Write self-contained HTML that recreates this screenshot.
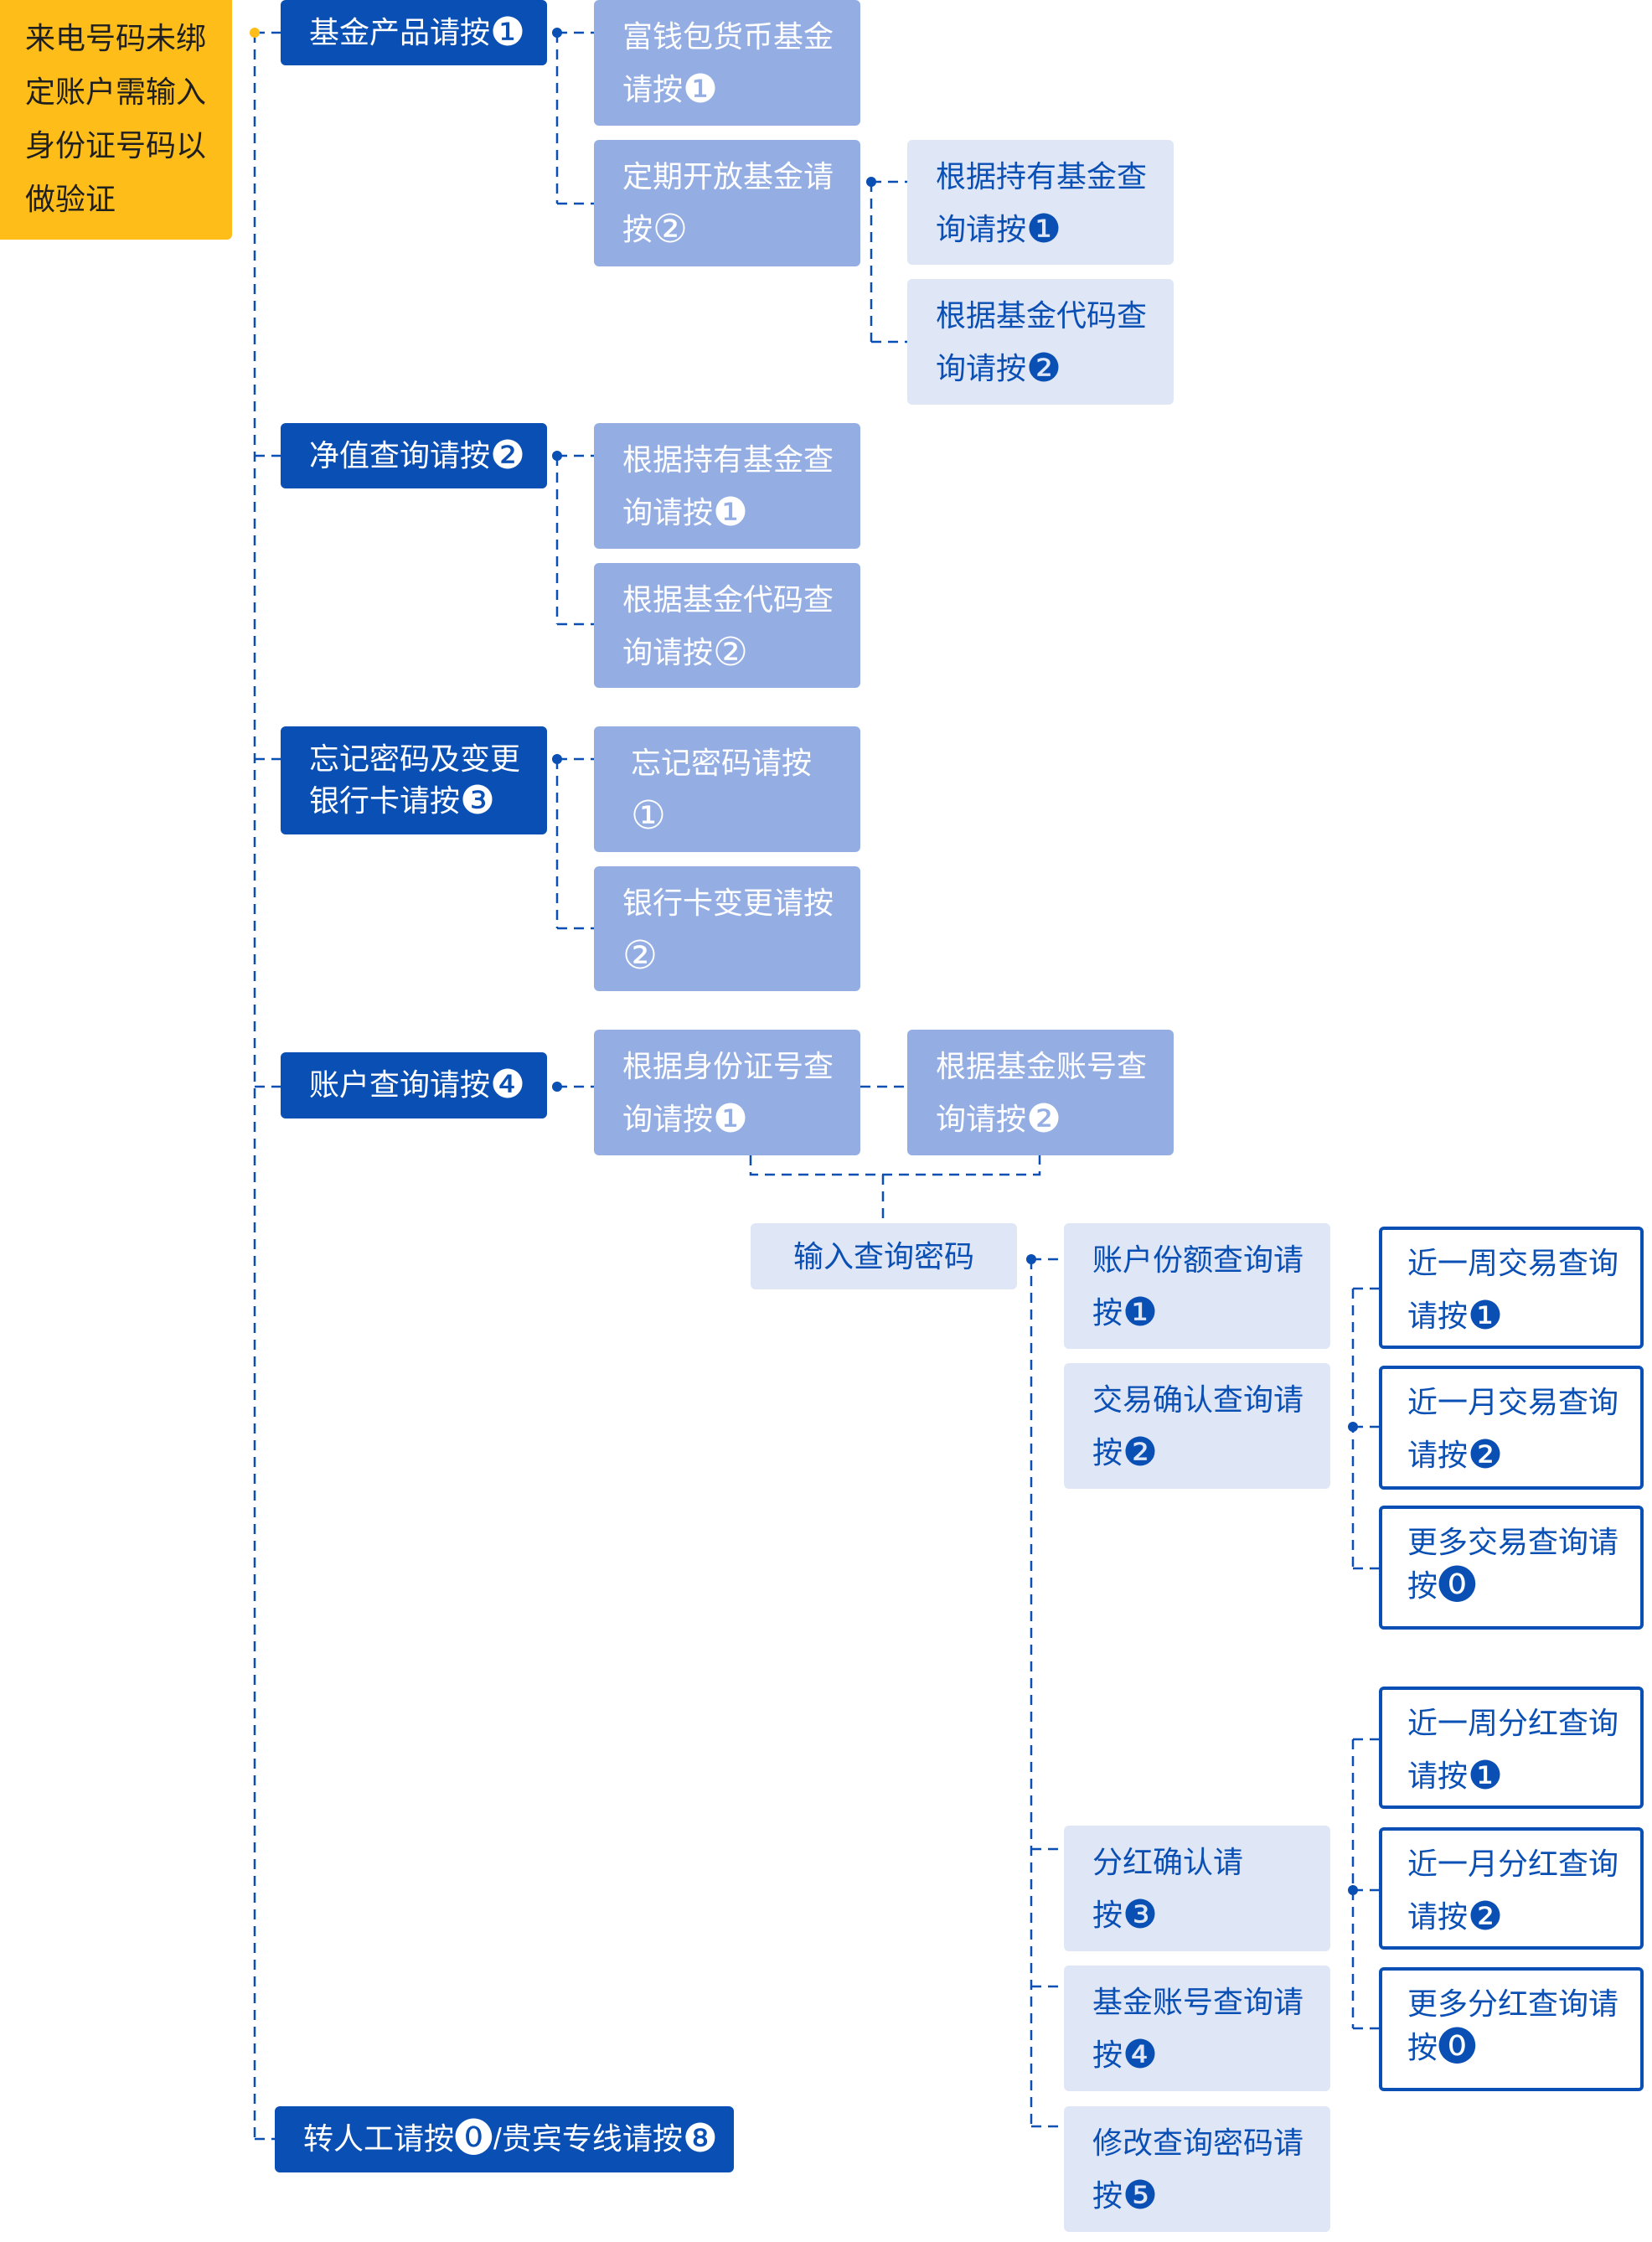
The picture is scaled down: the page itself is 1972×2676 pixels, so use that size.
<!DOCTYPE html>
<html><head><meta charset="utf-8"><style>
html,body{margin:0;padding:0;background:#fff}
body{width:1972px;height:2676px;position:relative;overflow:hidden;font-family:"Liberation Sans","Noto Sans CJK SC",sans-serif}
.b{position:absolute;box-sizing:border-box;font-size:36px;line-height:63px;padding:12px 0 0 34px;border-radius:6px;white-space:nowrap}
.d{background:#0a4fb4;color:#fff;line-height:78px;padding:0 0 0 34px}
.m{background:#94aee4;color:#fff}
.l{background:#dfe6f6;color:#0a4fb4}
.o{background:#fff;color:#0a4fb4;border:4px solid #0a4fb4;padding:8px 0 0 30px}
.c{font-family:"DejaVu Sans",sans-serif;font-size:1.3em;line-height:0;vertical-align:-0.06em}
svg{position:absolute;left:0;top:0}
</style></head><body>
<svg width="1972" height="2676">
<g stroke="#0a4fb4" stroke-width="2.5" stroke-dasharray="12 8" fill="none">
<path d="M304 39V2553"/>
<path d="M304 39H335M304 544H335M304 906H335M304 1297H335M304 2553H328"/>
<path d="M665 39V243M665 39H709M665 243H709"/>
<path d="M1040 217V408M1040 217H1083M1040 408H1083"/>
<path d="M665 544V745M665 544H709M665 745H709"/>
<path d="M665 906V1108M665 906H709M665 1108H709"/>
<path d="M665 1297H709M1027 1297H1083"/>
<path d="M896 1379V1402H1241V1379M1054 1402V1460"/>
<path d="M1231 1503V2538M1231 1503H1270M1231 2207H1270M1231 2371H1270M1231 2538H1270"/>
<path d="M1615 1538V1872M1615 1538H1646M1615 1703H1646M1615 1872H1646"/>
<path d="M1615 2076V2421M1615 2076H1646M1615 2256H1646M1615 2421H1646"/>
</g>
<g fill="#0a4fb4">
<circle cx="665" cy="39" r="6"/><circle cx="1040" cy="217" r="6"/><circle cx="665" cy="544" r="6"/>
<circle cx="665" cy="906" r="6"/><circle cx="665" cy="1297" r="6"/><circle cx="1231" cy="1503" r="6"/>
<circle cx="1615" cy="1703" r="6"/><circle cx="1615" cy="2256" r="6"/>
</g>
<circle cx="304" cy="39" r="6" fill="#ffbd1a"/>
</svg>

<div class="b" style="left:0;top:0;width:277px;height:286px;background:#ffbd1a;color:#1f1f1f;border-radius:0 0 6px 0;font-size:36px;line-height:64px;padding:14px 0 0 30px">来电号码未绑<br>定账户需输入<br>身份证号码以<br>做验证</div>

<div class="b d" style="left:335px;top:0;width:318px;height:78px">基金产品请按<span class="c">❶</span></div>
<div class="b d" style="left:335px;top:505px;width:318px;height:78px">净值查询请按<span class="c">❷</span></div>
<div class="b d" style="left:335px;top:867px;width:318px;height:129px;line-height:50px;padding-top:14px">忘记密码及变更<br>银行卡请按<span class="c">❸</span></div>
<div class="b d" style="left:335px;top:1256px;width:318px;height:79px">账户查询请按<span class="c">❹</span></div>
<div class="b d" style="left:328px;top:2514px;width:548px;height:79px">转人工请按<span class="c">⓿</span>/贵宾专线请按<span class="c">❽</span></div>

<div class="b m" style="left:709px;top:0;width:318px;height:150px">富钱包货币基金<br>请按<span class="c">❶</span></div>
<div class="b m" style="left:709px;top:167px;width:318px;height:151px">定期开放基金请<br>按<span class="c">②</span></div>
<div class="b m" style="left:709px;top:505px;width:318px;height:150px">根据持有基金查<br>询请按<span class="c">❶</span></div>
<div class="b m" style="left:709px;top:672px;width:318px;height:149px">根据基金代码查<br>询请按<span class="c">②</span></div>
<div class="b m" style="left:709px;top:867px;width:318px;height:150px;padding-left:44px">忘记密码请按<br><span class="c">①</span></div>
<div class="b m" style="left:709px;top:1034px;width:318px;height:149px">银行卡变更请按<br><span class="c">②</span></div>
<div class="b m" style="left:709px;top:1229px;width:318px;height:150px">根据身份证号查<br>询请按<span class="c">❶</span></div>
<div class="b m" style="left:1083px;top:1229px;width:318px;height:150px">根据基金账号查<br>询请按<span class="c">❷</span></div>

<div class="b l" style="left:1083px;top:167px;width:318px;height:149px">根据持有基金查<br>询请按<span class="c">❶</span></div>
<div class="b l" style="left:1083px;top:333px;width:318px;height:150px">根据基金代码查<br>询请按<span class="c">❷</span></div>
<div class="b l" style="left:896px;top:1460px;width:318px;height:79px;padding:0;line-height:79px;text-align:center">输入查询密码</div>

<div class="b l" style="left:1270px;top:1460px;width:318px;height:150px">账户份额查询请<br>按<span class="c">❶</span></div>
<div class="b l" style="left:1270px;top:1627px;width:318px;height:150px">交易确认查询请<br>按<span class="c">❷</span></div>
<div class="b l" style="left:1270px;top:2179px;width:318px;height:150px">分红确认请<br>按<span class="c">❸</span></div>
<div class="b l" style="left:1270px;top:2346px;width:318px;height:150px">基金账号查询请<br>按<span class="c">❹</span></div>
<div class="b l" style="left:1270px;top:2514px;width:318px;height:150px">修改查询密码请<br>按<span class="c">❺</span></div>

<div class="b o" style="left:1646px;top:1464px;width:316px;height:146px">近一周交易查询<br>请按<span class="c">❶</span></div>
<div class="b o" style="left:1646px;top:1630px;width:316px;height:148px">近一月交易查询<br>请按<span class="c">❷</span></div>
<div class="b o" style="left:1646px;top:1797px;width:316px;height:148px;padding-top:14px;line-height:52px">更多交易查询请<br>按<span class="c">⓿</span></div>
<div class="b o" style="left:1646px;top:2013px;width:316px;height:146px">近一周分红查询<br>请按<span class="c">❶</span></div>
<div class="b o" style="left:1646px;top:2181px;width:316px;height:146px">近一月分红查询<br>请按<span class="c">❷</span></div>
<div class="b o" style="left:1646px;top:2348px;width:316px;height:148px;padding-top:14px;line-height:52px">更多分红查询请<br>按<span class="c">⓿</span></div>
</body></html>
